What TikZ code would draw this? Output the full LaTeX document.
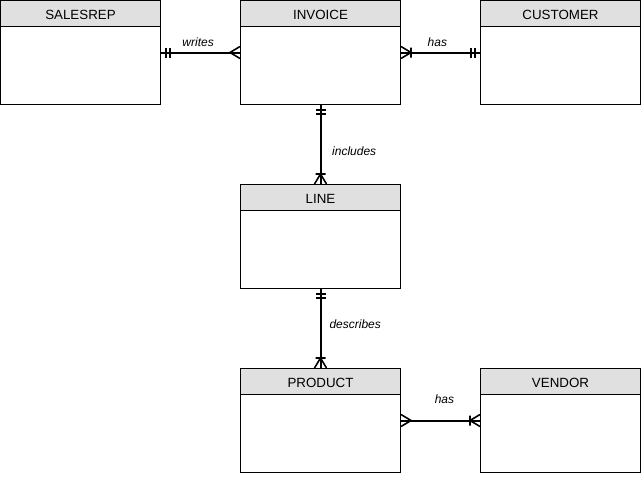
\documentclass[tikz,border=0pt]{standalone}
\usepackage{fontspec}
\setmainfont{Liberation Sans}
\usetikzlibrary{decorations.markings}
\definecolor{grisclair}{HTML}{E0E0E0}
\tikzstyle{entite} = [rectangle, draw=black, line width=0.75pt, minimum width=120pt, minimum height=78pt, inner sep=0pt]
\tikzstyle{entete} = [rectangle, draw=black, fill=grisclair, line width=0.75pt, minimum width=120pt, minimum height=19.5pt, inner sep=0pt, text height=8.8pt, text depth=0pt, anchor=north, font=\fontsize{10pt}{12pt}\selectfont]
\tikzstyle{lien} = [line width=1.5pt]
\tikzstyle{etiquette} = [font=\fontsize{9pt}{11pt}\selectfont\itshape, inner sep=0pt]
\tikzstyle{one start} = [postaction={decorate, decoration={markings, mark=at position 0 with {\draw[line width=1.2pt] (3.75pt,-3.75pt) -- (3.75pt,3.75pt) (6.75pt,-3.75pt) -- (6.75pt,3.75pt);}}}]
\tikzstyle{many start} = [postaction={decorate, decoration={markings, mark=at position 0 with {\draw[line width=1.2pt] (0pt,-4.5pt) -- (7.5pt,0pt) -- (0pt,4.5pt);}}}]
\tikzstyle{many end} = [postaction={decorate, decoration={markings, mark=at position 1 with {\draw[line width=1.2pt] (0pt,-4.5pt) -- (-7.5pt,0pt) -- (0pt,4.5pt);}}}]
\tikzstyle{onemany end} = [postaction={decorate, decoration={markings, mark=at position 1 with {\draw[line width=1.2pt] (0pt,-4.5pt) -- (-7.5pt,0pt) -- (0pt,4.5pt) (-7.5pt,-3.75pt) -- (-7.5pt,3.75pt);}}}]

\begin{document}
\begin{tikzpicture}[x=0.75pt, y=-0.75pt]

        \useasboundingbox (0,0) rectangle (641,476);

        \node (salesrep) [entite] at (80.5,52.5) {};
        \node (invoice) [entite] at (320.5,52.5) {};
        \node (customer) [entite] at (560.5,52.5) {};
        \node (line) [entite] at (320.5,236.5) {};
        \node (product) [entite] at (320.5,420.5) {};
        \node (vendor) [entite] at (560.5,420.5) {};

        \node (salesrep-h) [entete] at (salesrep.north) {SALESREP};
        \node (invoice-h) [entete] at (invoice.north) {INVOICE};
        \node (customer-h) [entete] at (customer.north) {CUSTOMER};
        \node (line-h) [entete] at (line.north) {LINE};
        \node (product-h) [entete] at (product.north) {PRODUCT};
        \node (vendor-h) [entete] at (vendor.north) {VENDOR};

        \draw[lien, one start, many end] (salesrep.east) -- node[etiquette, pos=0.47, above=4pt] {writes} (invoice.west);
        \draw[lien, one start, onemany end] (customer.west) -- node[etiquette, pos=0.54, above=4pt] {has} (invoice.east);
        \draw[lien, one start, onemany end] (invoice.south) -- node[etiquette, pos=0.59, right=8pt] {includes} (line.north);
        \draw[lien, one start, onemany end] (line.south) -- node[etiquette, pos=0.44, right=6pt] {describes} (product.north);
        \draw[lien, many start, onemany end] (product.east) -- node[etiquette, pos=0.55, above=12pt] {has} (vendor.west);

    \end{tikzpicture}
\end{document}
